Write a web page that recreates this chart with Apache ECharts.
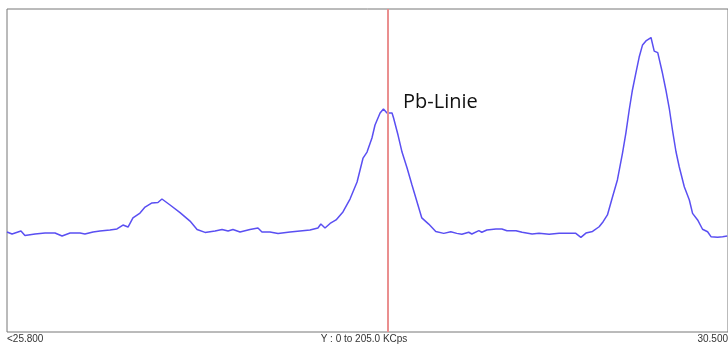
<!DOCTYPE html>
<html>
<head>
<meta charset="utf-8">
<script src="https://cdn.jsdelivr.net/npm/echarts@6/dist/echarts.min.js"></script>
<style>
html,body{margin:0;padding:0;background:#fff;}
#chart{width:728px;height:344px;}
</style>
</head>
<body>
<div id="chart"></div>
<script>
// Energy (keV) positions of spectrum samples
const energies = [25.800,25.833,25.891,25.917,25.983,26.048,26.113,26.159,26.211,26.276,26.308,26.361,26.406,26.471,26.517,26.556,26.589,26.621,26.667,26.700,26.745,26.784,26.810,26.863,26.928,26.993,27.039,27.091,27.156,27.202,27.241,27.273,27.319,27.384,27.436,27.462,27.514,27.567,27.645,27.710,27.775,27.827,27.846,27.873,27.906,27.945,27.990,28.036,28.082,28.121,28.147,28.179,28.199,28.232,28.254,28.277,28.310,28.320,28.349,28.375,28.408,28.440,28.473,28.504,28.549,28.595,28.647,28.693,28.732,28.765,28.810,28.830,28.876,28.895,28.928,28.987,29.026,29.059,29.118,29.158,29.223,29.268,29.334,29.399,29.464,29.508,29.541,29.574,29.617,29.660,29.686,29.714,29.747,29.779,29.812,29.834,29.856,29.877,29.899,29.921,29.943,29.965,29.998,30.019,30.042,30.073,30.095,30.117,30.138,30.161,30.182,30.215,30.248,30.269,30.302,30.334,30.367,30.389,30.432,30.465,30.495];
// Intensity (KCps)
const counts = [63.5,62.2,64.1,61.2,62.2,62.8,62.8,60.9,62.8,62.8,62.2,63.5,64.1,64.7,65.4,67.9,66.6,72.4,75.5,79.3,81.9,82.2,84.4,80.6,75.8,70.4,65.1,63.2,64.1,65.1,64.1,65.1,63.5,65.1,66.0,63.5,63.5,62.5,63.5,64.1,64.7,66.0,68.5,66.0,68.9,71.1,76.2,84.4,95.2,110.4,114.2,123.1,131.4,139.0,141.5,139.0,139.0,135.8,125.0,114.2,104.1,93.3,82.5,72.4,68.5,63.8,62.6,63.6,62.6,62.0,63.3,62.2,64.3,63.3,64.7,65.4,65.4,64.3,64.3,63.3,62.2,62.6,62.0,62.6,62.6,62.6,60.1,62.8,63.8,66.8,70.0,74.3,85.7,96.5,113.4,126.1,140.9,153.6,164.2,174.5,182.2,184.7,186.9,178.3,177.3,164.2,153.6,142.0,128.2,114.4,104.9,92.2,83.8,75.3,71.1,65.2,63.6,60.5,60.1,60.5,60.9];
const xRange = [25.8, 30.5];
const yRange = [0, 205];
const markerEnergy = 28.277;
const markerLabel = 'Pb-Linie';
const xLabelLeft = '<25.800';
const xLabelRight = '30.500';
const yRangeLabel = 'Y : 0 to 205.0 KCps';

const chart = echarts.init(document.getElementById('chart'));
chart.setOption({
  animation: false,
  backgroundColor: '#fff',
  grid: {left: 7, top: 9, width: 721, height: 323, show: true, borderColor: '#777', borderWidth: 1, backgroundColor: 'transparent'},
  xAxis: {type: 'value', min: xRange[0], max: xRange[1], show: false},
  yAxis: {type: 'value', min: yRange[0], max: yRange[1], show: false},
  series: [{
    type: 'line',
    data: energies.map((e, i) => [e, counts[i]]),
    showSymbol: false,
    smooth: false,
    lineStyle: {color: '#5a4ff2', width: 1.5},
    markLine: {
      silent: true,
      symbol: ['none', 'none'],
      label: {show: false},
      lineStyle: {color: '#ea8f8f', width: 2, type: 'solid'},
      data: [{xAxis: markerEnergy}]
    }
  }],
  graphic: [
    {type: 'text', left: 403, top: 92, style: {text: markerLabel, fontFamily: 'Open Sans', fontSize: 20, fill: '#111'}},
    {type: 'text', left: 7, top: 334, style: {text: xLabelLeft, fontFamily: 'Liberation Sans', fontSize: 10, fill: '#333'}},
    {type: 'text', right: 0, top: 334, style: {text: xLabelRight, fontFamily: 'Liberation Sans', fontSize: 10, fill: '#333'}},
    {type: 'text', left: 'center', top: 334, style: {text: yRangeLabel, fontFamily: 'Liberation Sans', fontSize: 10, fill: '#333'}}
  ]
});
</script>
</body>
</html>
